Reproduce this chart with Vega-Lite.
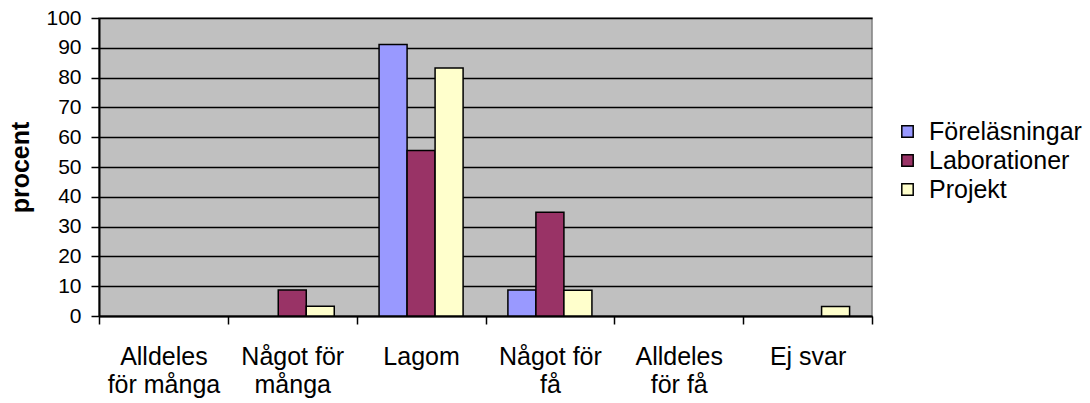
{
  "$schema": "https://vega.github.io/schema/vega-lite/v6.json",
  "width": 773,
  "height": 298,
  "autosize": {"type": "none"},
  "padding": {"left": 99, "top": 18, "right": 218, "bottom": 87},
  "background": "white",
  "config": {
    "font": "Liberation Sans",
    "view": {"fill": "#C0C0C0", "stroke": "#808080", "strokeWidth": 1.5}
  },
  "data": {
    "values": [
      {"kategori": "Alldeles för många", "typ": "Föreläsningar", "procent": 0},
      {"kategori": "Alldeles för många", "typ": "Laborationer", "procent": 0},
      {"kategori": "Alldeles för många", "typ": "Projekt", "procent": 0},
      {"kategori": "Något för många", "typ": "Föreläsningar", "procent": 0},
      {"kategori": "Något för många", "typ": "Laborationer", "procent": 8.7},
      {"kategori": "Något för många", "typ": "Projekt", "procent": 3.3},
      {"kategori": "Lagom", "typ": "Föreläsningar", "procent": 91.1},
      {"kategori": "Lagom", "typ": "Laborationer", "procent": 55.5},
      {"kategori": "Lagom", "typ": "Projekt", "procent": 83.2},
      {"kategori": "Något för få", "typ": "Föreläsningar", "procent": 8.7},
      {"kategori": "Något för få", "typ": "Laborationer", "procent": 34.8},
      {"kategori": "Något för få", "typ": "Projekt", "procent": 8.6},
      {"kategori": "Alldeles för få", "typ": "Föreläsningar", "procent": 0},
      {"kategori": "Alldeles för få", "typ": "Laborationer", "procent": 0},
      {"kategori": "Alldeles för få", "typ": "Projekt", "procent": 0},
      {"kategori": "Ej svar", "typ": "Föreläsningar", "procent": 0},
      {"kategori": "Ej svar", "typ": "Laborationer", "procent": 0},
      {"kategori": "Ej svar", "typ": "Projekt", "procent": 3.2}
    ]
  },
  "transform": [{"filter": "datum.procent > 0"}],
  "mark": {"type": "bar", "stroke": "black", "strokeWidth": 1.5},
  "encoding": {
    "x": {
      "field": "kategori",
      "type": "nominal",
      "sort": ["Alldeles för många", "Något för många", "Lagom", "Något för få", "Alldeles för få", "Ej svar"],
      "scale": {"domain": ["Alldeles för många", "Något för många", "Lagom", "Något för få", "Alldeles för få", "Ej svar"], "paddingInner": 0, "paddingOuter": 0},
      "axis": {
        "title": null,
        "labelAngle": 0,
        "labelFontSize": 25,
        "labelColor": "black",
        "labelLineHeight": 28,
        "labelPadding": 20,
        "labelBaseline": "top",
        "tickBand": "extent",
        "tickSize": 8,
        "tickColor": "black",
        "tickWidth": 1.5,
        "domainColor": "black",
        "domainWidth": 2,
        "grid": false,
        "labelExpr": "datum.label == 'Alldeles för många' ? ['Alldeles', 'för många'] : datum.label == 'Något för många' ? ['Något för', 'många'] : datum.label == 'Något för få' ? ['Något för', 'få'] : datum.label == 'Alldeles för få' ? ['Alldeles', 'för få'] : datum.label"
      }
    },
    "xOffset": {
      "field": "typ",
      "type": "nominal",
      "scale": {"domain": ["Föreläsningar", "Laborationer", "Projekt"], "paddingInner": 0, "paddingOuter": 0.8}
    },
    "y": {
      "field": "procent",
      "type": "quantitative",
      "scale": {"domain": [0, 100], "nice": false},
      "axis": {
        "title": "procent",
        "titleFontSize": 25,
        "titleFontWeight": "bold",
        "titleColor": "black",
        "titlePadding": 12,
        "values": [0, 10, 20, 30, 40, 50, 60, 70, 80, 90, 100],
        "labelFontSize": 21,
        "labelColor": "black",
        "labelPadding": 10,
        "tickSize": 8,
        "tickColor": "black",
        "tickWidth": 1.5,
        "domainColor": "black",
        "domainWidth": 2,
        "grid": true,
        "gridColor": "black",
        "gridWidth": 1.5
      }
    },
    "color": {
      "field": "typ",
      "type": "nominal",
      "scale": {"domain": ["Föreläsningar", "Laborationer", "Projekt"], "range": ["#9999FF", "#993366", "#FFFFCC"]},
      "legend": {
        "title": null,
        "orient": "none",
        "legendX": 796,
        "legendY": 101,
        "symbolType": "square",
        "symbolSize": 130,
        "symbolStrokeColor": "black",
        "symbolStrokeWidth": 1.5,
        "symbolOpacity": 1,
        "labelFontSize": 25,
        "labelColor": "black",
        "labelOffset": 9,
        "rowPadding": 3
      }
    }
  }
}
